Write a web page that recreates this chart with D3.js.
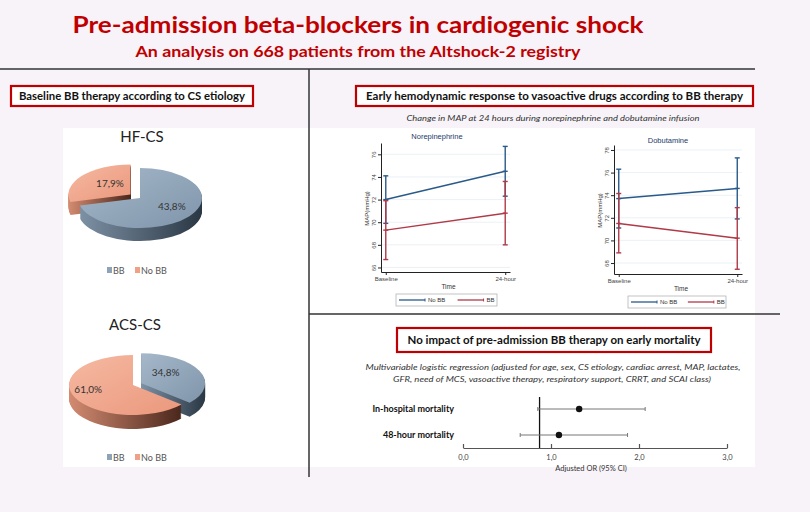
<!DOCTYPE html>
<html>
<head>
<meta charset="utf-8">
<script src="https://cdn.jsdelivr.net/npm/d3@7"></script>
<style>
  body { margin: 0; background: #f7f3f9; }
  svg text { font-family: Lato, "Open Sans", sans-serif; }
  .stata text { font-family: "Liberation Sans", Arial, sans-serif; }
</style>
</head>
<body>
<div id="chart"></div>
<script>
// ---- data ----
var pieTitles = ["HF-CS", "ACS-CS"];
var pieGroups = ["BB", "No BB"];
var hfValues = [43.8, 17.9];
var acsValues = [34.8, 61.0];

var timePoints = ["Baseline", "24-hour"];
var seriesNames = ["No BB", "BB"];
// norepinephrine, MAP (mmHg) mean and 95% CI
var noreNoBBMean = [72.0, 74.5];
var noreNoBBLow = [69.9, 72.3];
var noreNoBBHigh = [74.1, 76.7];
var noreBBMean = [69.3, 70.8];
var noreBBLow = [66.7, 68.0];
var noreBBHigh = [71.9, 73.6];
var noreTicks = [66, 68, 70, 72, 74, 76];
// dobutamine
var dobuNoBBMean = [73.7, 74.6];
var dobuNoBBLow = [71.1, 71.9];
var dobuNoBBHigh = [76.3, 77.3];
var dobuBBMean = [71.5, 70.2];
var dobuBBLow = [68.9, 67.45];
var dobuBBHigh = [74.15, 72.9];
var dobuTicks = [68, 70, 72, 74, 76, 78];

// forest plot
var outcomes = ["In-hospital mortality", "48-hour mortality"];
var orEst = [1.32, 1.09];
var orLow = [0.85, 0.65];
var orHigh = [2.07, 1.87];
var orTicks = [0, 1, 2, 3];
var orRef = 0.87;

// ---- svg ----
var svgWidth = 810;
var svgHeight = 512;
var red = "#c00000";
var blueLine = "#2a5a8a";
var redLine = "#b03a48";

var svg = d3.select("#chart")
  .append("svg")
  .attr("width", svgWidth)
  .attr("height", svgHeight);

var defs = svg.append("defs");
function linGrad(id, c1, c2, x2, y2) {
  var gr = defs.append("linearGradient").attr("id", id)
    .attr("x1", 0).attr("y1", 0).attr("x2", x2).attr("y2", y2);
  gr.append("stop").attr("offset", "0%").attr("stop-color", c1);
  gr.append("stop").attr("offset", "100%").attr("stop-color", c2);
}
linGrad("topBB", "#a6b8ca", "#7f95aa", 1, 1);
linGrad("sideBB", "#7d91a5", "#2a3744", 1, 0);
linGrad("topNoBB", "#f6b9a2", "#ea987c", 1, 1);
linGrad("sideNoBB", "#d38b71", "#4a271c", 1, 0);
var topFill = ["url(#topBB)", "url(#topNoBB)"];
var sideFill = ["url(#sideBB)", "url(#sideNoBB)"];
var legendFill = ["#8ea3b8", "#f0a088"];

svg.append("rect").attr("width", svgWidth).attr("height", svgHeight).attr("fill", "#f7f3f9");
svg.append("rect").attr("x", 63).attr("y", 128).attr("width", 692).attr("height", 339).attr("fill", "#fff");

// titles
svg.append("text").attr("x", 358).attr("y", 33).attr("text-anchor", "middle")
  .attr("fill", red).style("font-size", "23px").style("font-weight", "bold")
  .attr("textLength", 571).attr("lengthAdjust", "spacingAndGlyphs")
  .text("Pre-admission beta-blockers in cardiogenic shock");
svg.append("text").attr("x", 358).attr("y", 57).attr("text-anchor", "middle")
  .attr("fill", red).style("font-size", "16px").style("font-weight", "bold")
  .attr("textLength", 445).attr("lengthAdjust", "spacingAndGlyphs")
  .text("An analysis on 668 patients from the Altshock-2 registry");

// dividers
svg.append("line").attr("x1", 0).attr("x2", 755).attr("y1", 69).attr("y2", 69).attr("stroke", "#333").attr("stroke-width", 1.5);
svg.append("line").attr("x1", 309).attr("x2", 309).attr("y1", 69).attr("y2", 477).attr("stroke", "#333").attr("stroke-width", 1.5);
svg.append("line").attr("x1", 309).attr("x2", 780).attr("y1", 314).attr("y2", 314).attr("stroke", "#333").attr("stroke-width", 1.5);

// red section boxes
function sectionBox(x, y, w, h, label, len) {
  svg.append("rect").attr("x", x).attr("y", y).attr("width", w).attr("height", h)
    .attr("fill", "#fff").attr("stroke", red).attr("stroke-width", 2.2);
  svg.append("text").attr("x", x + w / 2).attr("y", y + h / 2 + 4).attr("text-anchor", "middle")
    .style("font-size", "11px").style("font-weight", "bold").attr("fill", "#111")
    .attr("textLength", len).attr("lengthAdjust", "spacingAndGlyphs")
    .text(label);
}
sectionBox(11, 86, 242, 20, "Baseline BB therapy according to CS etiology", 226);
sectionBox(356, 86, 397, 20, "Early hemodynamic response to vasoactive drugs according to BB therapy", 377);
sectionBox(397, 328, 314, 24, "No impact of pre-admission BB therapy on early mortality", 293);

svg.append("text").attr("x", 553).attr("y", 121).attr("text-anchor", "middle")
  .style("font-size", "8.5px").style("font-style", "italic").attr("fill", "#333")
  .attr("textLength", 293).attr("lengthAdjust", "spacingAndGlyphs")
  .text("Change in MAP at 24 hours during norepinephrine and dobutamine infusion");

// ---- 3D pies ----
function draw3DPie(values, cfg) {
  var g = svg.append("g");
  var slices = d3.pie().sort(null)(values);
  var arc = d3.arc().innerRadius(0).outerRadius(cfg.rx);
  var k = cfg.ry / cfg.rx;
  var order = [cfg.explode].concat(d3.range(values.length).filter(i => i !== cfg.explode));

  g.append("text").attr("x", cfg.cx + 2).attr("y", cfg.titleY).attr("text-anchor", "middle")
    .style("font-size", "15px").attr("fill", "#222").text(cfg.title);

  order.forEach(function(i) {
    var d = slices[i];
    var mid = (d.startAngle + d.endAngle) / 2;
    var off = i === cfg.explode ? cfg.explodeDist : 0;
    var dx = Math.sin(mid) * off;
    var dy = -Math.cos(mid) * off * k;
    var sg = g.append("g").attr("transform", `translate(${cfg.cx + dx},${cfg.cy + dy})`);
    for (var z = cfg.depth; z > 0; z--) {
      sg.append("path").attr("d", arc(d))
        .attr("transform", `translate(0,${z}) scale(1,${k})`)
        .attr("fill", sideFill[i]);
    }
    sg.append("path").attr("d", arc(d))
      .attr("transform", `scale(1,${k})`)
      .attr("fill", topFill[i]);
  });

  // labels
  slices.forEach(function(d, i) {
    var mid = (d.startAngle + d.endAngle) / 2;
    var off = i === cfg.explode ? cfg.explodeDist : 0;
    var r = cfg.rx * cfg.labelR[i];
    g.append("text")
      .attr("x", cfg.cx + Math.sin(mid) * (r + off))
      .attr("y", cfg.cy - Math.cos(mid) * (r + off) * k + cfg.labelDy + 4)
      .attr("text-anchor", "middle").style("font-size", "10px").attr("fill", "#333")
      .text(d3.format(".1f")(d.data).replace(".", ",") + "%");
  });

  // legend
  var lg = g.append("g").attr("transform", `translate(107,${cfg.legendY})`);
  pieGroups.forEach(function(name, i) {
    var x = i * 28;
    lg.append("rect").attr("x", x).attr("y", -4).attr("width", 5).attr("height", 6).attr("fill", legendFill[i]);
    lg.append("text").attr("x", x + 6).attr("y", 2.5).style("font-size", "9px").attr("fill", "#555").text(name);
  });
}

draw3DPie(hfValues, { title: pieTitles[0], titleY: 142, cx: 140, cy: 198, rx: 62, ry: 30, depth: 13,
  explode: 1, explodeDist: 12, labelR: [0.65, 0.42], labelDy: -4, legendY: 271 });
draw3DPie(acsValues, { title: pieTitles[1], titleY: 330, cx: 133, cy: 385, rx: 64, ry: 30, depth: 14,
  explode: 0, explodeDist: 9, labelR: [0.42, 0.77], labelDy: -6, legendY: 458 });

// ---- line charts ----
function drawLineChart(cfg) {
  var g = svg.append("g").attr("class", "stata");
  var x = d3.scalePoint().domain(timePoints).range([cfg.x0, cfg.x1]).padding(0.04);
  var y = d3.scaleLinear().domain(cfg.yDomain).range([cfg.y1, cfg.y0]);

  g.selectAll(".grid").data(cfg.ticks).enter().append("line")
    .attr("x1", cfg.x0).attr("x2", cfg.x1)
    .attr("y1", d => y(d)).attr("y2", d => y(d))
    .attr("stroke", "#e6edf3").attr("stroke-width", 0.8);

  var yAxis = g.append("g").attr("transform", `translate(${cfg.x0},0)`)
    .call(d3.axisLeft(y).tickValues(cfg.ticks).tickSize(3).tickSizeOuter(0));
  yAxis.selectAll("text").attr("x", 0).attr("dy", 0)
    .attr("transform", "translate(-5,0) rotate(-90)").attr("text-anchor", "middle")
    .style("font-size", "6px").attr("fill", "#444");

  var xAxis = g.append("g").attr("transform", `translate(0,${cfg.y1})`)
    .call(d3.axisBottom(x).tickSize(3).tickSizeOuter(0).tickPadding(2));
  xAxis.selectAll("text").style("font-size", "6px").attr("fill", "#444");
  g.selectAll(".domain, .tick line").attr("stroke", "#222");

  g.append("text").attr("x", cfg.titleX).attr("y", cfg.titleY).attr("text-anchor", "middle")
    .style("font-size", "7.5px").attr("fill", "#1d3b6b").text(cfg.title);
  g.append("text").attr("x", (cfg.x0 + cfg.x1) / 2 + 3).attr("y", cfg.y1 + 17).attr("text-anchor", "middle")
    .style("font-size", "6.5px").attr("fill", "#333").text("Time");
  g.append("text").attr("transform", `translate(${cfg.x0 - 12},${(cfg.y0 + cfg.y1) / 2 + 1}) rotate(-90)`)
    .attr("text-anchor", "middle").style("font-size", "6px").attr("fill", "#333").text("MAP(mmHg)");

  cfg.series.forEach(function(s) {
    var line = d3.line().x((d, i) => x(timePoints[i])).y(d => y(d));
    g.append("path").attr("d", line(s.mean)).attr("fill", "none")
      .attr("stroke", s.color).attr("stroke-width", 1.5);
    timePoints.forEach(function(t, i) {
      var cx = x(t);
      g.append("line").attr("x1", cx).attr("x2", cx).attr("y1", y(s.low[i])).attr("y2", y(s.high[i]))
        .attr("stroke", s.color).attr("stroke-width", 1.4);
      [s.low[i], s.high[i], s.mean[i]].forEach(function(v) {
        g.append("line").attr("x1", cx - 2.5).attr("x2", cx + 2.5).attr("y1", y(v)).attr("y2", y(v))
          .attr("stroke", s.color).attr("stroke-width", 1.4);
      });
    });
  });

  // legend
  var lg = g.append("g");
  lg.append("rect").attr("x", cfg.legX).attr("y", cfg.y1 + 22).attr("width", cfg.legW).attr("height", 12)
    .attr("fill", "#fff").attr("stroke", "#aaa").attr("stroke-width", 0.7);
  cfg.series.forEach(function(s, i) {
    var lx = cfg.legX + 3 + i * cfg.legW * 0.58;
    var ly = cfg.y1 + 28;
    lg.append("line").attr("x1", lx).attr("x2", lx + 26).attr("y1", ly).attr("y2", ly)
      .attr("stroke", s.color).attr("stroke-width", 1.3);
    lg.append("line").attr("x1", lx + 26).attr("x2", lx + 26).attr("y1", ly - 1.5).attr("y2", ly + 1.5)
      .attr("stroke", s.color).attr("stroke-width", 1);
    lg.append("text").attr("x", lx + 29).attr("y", ly + 2).style("font-size", "6px").attr("fill", "#333").text(s.name);
  });
}

drawLineChart({
  title: "Norepinephrine", titleX: 437, titleY: 139,
  x0: 381, x1: 510, y0: 143, y1: 272, yDomain: [65.6, 77.0], ticks: noreTicks,
  legX: 396, legW: 101,
  series: [
    { name: seriesNames[0], color: blueLine, mean: noreNoBBMean, low: noreNoBBLow, high: noreNoBBHigh },
    { name: seriesNames[1], color: redLine, mean: noreBBMean, low: noreBBLow, high: noreBBHigh }
  ]
});
drawLineChart({
  title: "Dobutamine", titleX: 668, titleY: 143,
  x0: 614, x1: 742, y0: 145, y1: 274, yDomain: [67.03, 78.44], ticks: dobuTicks,
  legX: 628, legW: 98,
  series: [
    { name: seriesNames[0], color: blueLine, mean: dobuNoBBMean, low: dobuNoBBLow, high: dobuNoBBHigh },
    { name: seriesNames[1], color: redLine, mean: dobuBBMean, low: dobuBBLow, high: dobuBBHigh }
  ]
});

// ---- forest plot ----
var fg = svg.append("g");
fg.append("text").attr("x", 553).attr("y", 370).attr("text-anchor", "middle")
  .style("font-size", "8.5px").style("font-style", "italic").attr("fill", "#333")
  .attr("textLength", 375).attr("lengthAdjust", "spacingAndGlyphs")
  .text("Multivariable logistic regression (adjusted for age, sex, CS etiology, cardiac arrest, MAP, lactates,");
fg.append("text").attr("x", 552).attr("y", 382).attr("text-anchor", "middle")
  .style("font-size", "8.5px").style("font-style", "italic").attr("fill", "#333")
  .attr("textLength", 318).attr("lengthAdjust", "spacingAndGlyphs")
  .text("GFR, need of MCS, vasoactive therapy, respiratory support, CRRT, and SCAI class)");

var xOR = d3.scaleLinear().domain([0, 3]).range([463, 727]);
var yOR = d3.scalePoint().domain(outcomes).range([409, 435]);

var orAxis = fg.append("g").attr("transform", "translate(0,448)")
  .call(d3.axisBottom(xOR).tickValues(orTicks).tickSize(-4).tickSizeOuter(0).tickPadding(7)
    .tickFormat(d => d3.format(".1f")(d).replace(".", ",")));
orAxis.selectAll("text").style("font-size", "7.5px").attr("fill", "#444");
orAxis.selectAll(".domain, .tick line").attr("stroke", "#555").attr("stroke-width", 1.2);
fg.append("text").attr("x", 591).attr("y", 471).attr("text-anchor", "middle")
  .style("font-size", "7.5px").attr("fill", "#333").text("Adjusted OR (95% CI)");

fg.append("line").attr("x1", xOR(orRef)).attr("x2", xOR(orRef)).attr("y1", 397).attr("y2", 448)
  .attr("stroke", "#111").attr("stroke-width", 1.3);

outcomes.forEach(function(name, i) {
  var cy = yOR(name);
  fg.append("line").attr("x1", xOR(orLow[i])).attr("x2", xOR(orHigh[i])).attr("y1", cy).attr("y2", cy)
    .attr("stroke", "#777").attr("stroke-width", 1);
  [orLow[i], orHigh[i]].forEach(function(v) {
    fg.append("line").attr("x1", xOR(v)).attr("x2", xOR(v)).attr("y1", cy - 2).attr("y2", cy + 2)
      .attr("stroke", "#777").attr("stroke-width", 1);
  });
  fg.append("circle").attr("cx", xOR(orEst[i])).attr("cy", cy).attr("r", 3.2).attr("fill", "#111");
  fg.append("text").attr("x", 454).attr("y", cy + 3).attr("text-anchor", "end")
    .style("font-size", "9px").style("font-weight", "bold").attr("fill", "#111").text(name);
});
</script>
</body>
</html>
